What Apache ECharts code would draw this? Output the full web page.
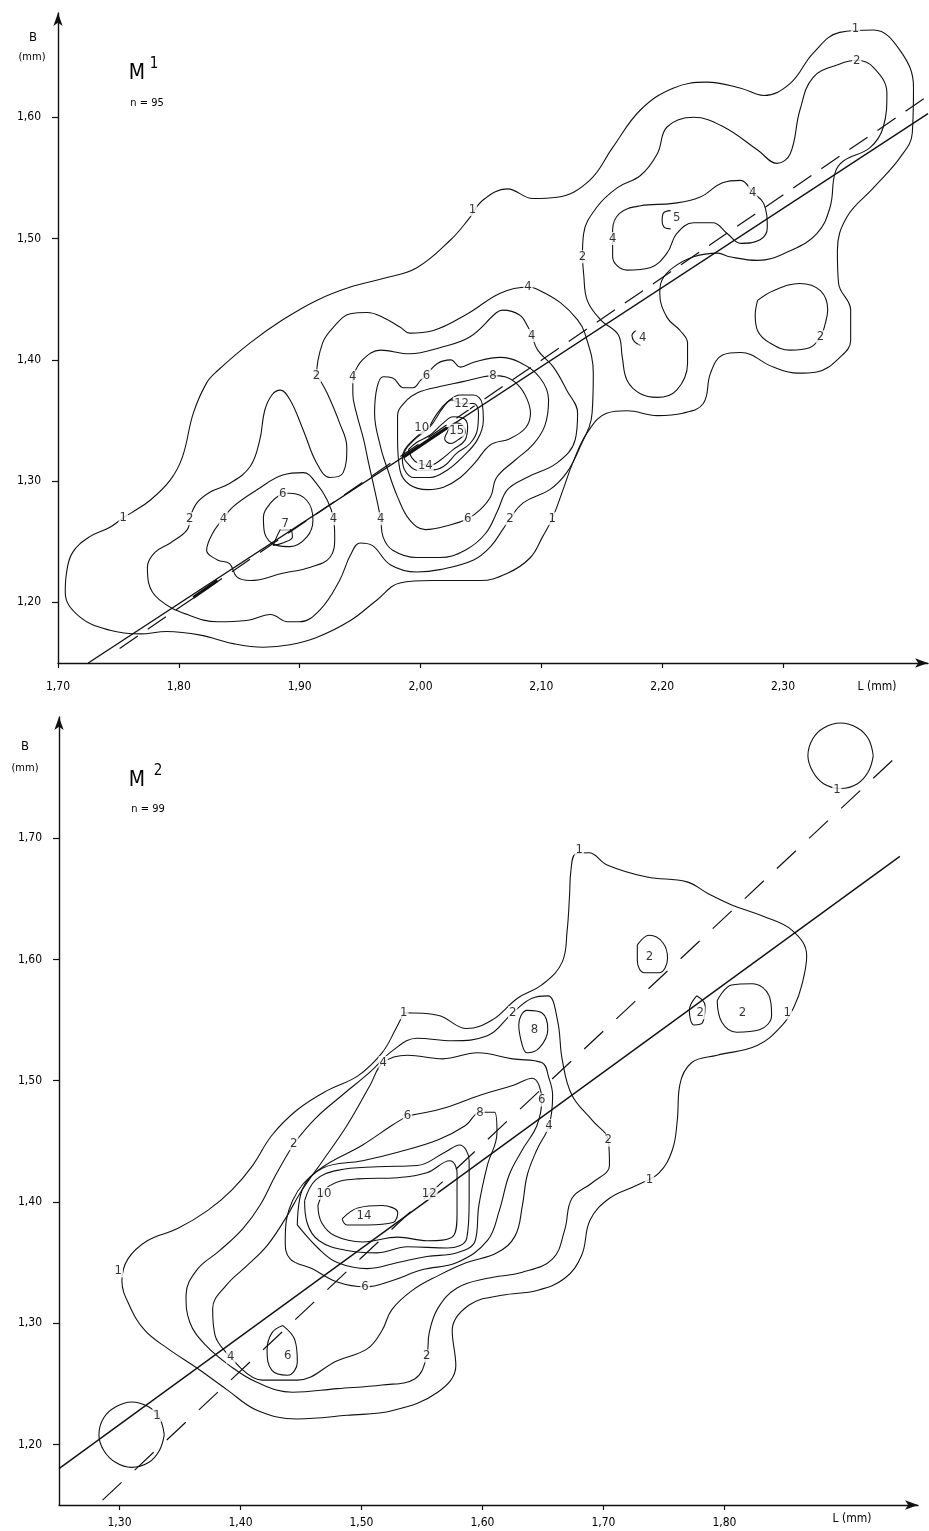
<!DOCTYPE html>
<html><head><meta charset="utf-8">
<script src="https://cdn.jsdelivr.net/npm/echarts@6/dist/echarts.min.js"></script>
<style>html,body{margin:0;padding:0;background:#fff}#c{width:929px;height:1531px}</style>
</head><body><div id="c"></div>
<script>
// ---------- M1 panel (top) ----------
const m1XTicks = [1.7, 1.8, 1.9, 2.0, 2.1, 2.2, 2.3];
const m1YTicks = [1.2, 1.3, 1.4, 1.5, 1.6];
const m1Solid = [[1.725, 1.15], [2.42, 1.603]];
const m1Dashed = [[1.751, 1.162], [2.419, 1.617]];
const m1SolidBold = [[1.986, 1.320], [2.022, 1.344]];
const m1DashedBold = [[1.812, 1.204], [1.832, 1.218]];
const m1Level1 = [[1.754,1.270],[1.761,1.274],[1.776,1.284],[1.793,1.301],[1.803,1.320],[1.812,1.356],[1.823,1.381],[1.832,1.391],[1.859,1.414],[1.886,1.433],[1.914,1.449],[1.942,1.460],[1.969,1.467],[1.997,1.476],[2.025,1.499],[2.039,1.515],[2.052,1.532],[2.072,1.541],[2.093,1.533],[2.113,1.534],[2.140,1.548],[2.159,1.575],[2.182,1.606],[2.209,1.624],[2.237,1.629],[2.265,1.624],[2.284,1.618],[2.306,1.628],[2.325,1.653],[2.347,1.670],[2.375,1.672],[2.397,1.655],[2.408,1.625],[2.407,1.587],[2.397,1.567],[2.375,1.542],[2.353,1.518],[2.345,1.490],[2.346,1.463],[2.356,1.441],[2.356,1.416],[2.347,1.402],[2.328,1.390],[2.312,1.389],[2.292,1.394],[2.265,1.406],[2.250,1.404],[2.240,1.389],[2.234,1.364],[2.217,1.356],[2.196,1.354],[2.171,1.358],[2.154,1.356],[2.138,1.340],[2.126,1.315],[2.118,1.293],[2.109,1.269],[2.101,1.254],[2.091,1.237],[2.072,1.224],[2.049,1.218],[2.010,1.218],[1.983,1.216],[1.964,1.202],[1.942,1.185],[1.914,1.171],[1.892,1.165],[1.870,1.163],[1.845,1.166],[1.818,1.173],[1.790,1.176],[1.768,1.174],[1.743,1.177],[1.718,1.188],[1.706,1.208],[1.707,1.224],[1.712,1.241],[1.726,1.254],[1.743,1.262],[1.754,1.270]];
const m1Level2Main = [[1.809,1.269],[1.815,1.282],[1.826,1.291],[1.842,1.298],[1.859,1.312],[1.867,1.334],[1.871,1.358],[1.877,1.371],[1.884,1.375],[1.892,1.367],[1.903,1.342],[1.914,1.315],[1.925,1.303],[1.936,1.307],[1.939,1.328],[1.933,1.348],[1.923,1.372],[1.917,1.383],[1.914,1.387],[1.919,1.414],[1.928,1.427],[1.942,1.438],[1.956,1.439],[1.969,1.435],[1.983,1.427],[1.991,1.422],[2.010,1.424],[2.039,1.438],[2.066,1.455],[2.089,1.460],[2.099,1.457],[2.116,1.447],[2.130,1.433],[2.136,1.422],[2.143,1.389],[2.142,1.356],[2.132,1.328],[2.121,1.307],[2.107,1.293],[2.085,1.282],[2.074,1.269],[2.068,1.260],[2.058,1.246],[2.044,1.235],[2.016,1.227],[1.997,1.225],[1.975,1.231],[1.960,1.247],[1.950,1.249],[1.942,1.239],[1.933,1.218],[1.917,1.194],[1.900,1.184],[1.890,1.184],[1.876,1.190],[1.856,1.185],[1.832,1.184],[1.807,1.190],[1.784,1.202],[1.775,1.216],[1.774,1.229],[1.780,1.241],[1.793,1.249],[1.807,1.260],[1.809,1.269]];
const m1Level2Upper = [[2.134,1.485],[2.135,1.471],[2.138,1.449],[2.149,1.433],[2.164,1.420],[2.167,1.402],[2.171,1.383],[2.182,1.372],[2.196,1.369],[2.212,1.375],[2.221,1.397],[2.221,1.414],[2.215,1.424],[2.204,1.435],[2.198,1.455],[2.200,1.466],[2.209,1.476],[2.226,1.485],[2.246,1.488],[2.256,1.485],[2.279,1.482],[2.306,1.490],[2.328,1.504],[2.339,1.526],[2.343,1.554],[2.350,1.564],[2.372,1.575],[2.383,1.592],[2.386,1.620],[2.375,1.641],[2.361,1.647],[2.347,1.644],[2.325,1.633],[2.314,1.606],[2.306,1.570],[2.295,1.562],[2.279,1.573],[2.251,1.592],[2.226,1.600],[2.204,1.592],[2.196,1.570],[2.182,1.552],[2.163,1.542],[2.146,1.526],[2.135,1.504],[2.134,1.485]];
const m1Level2Right = [[2.279,1.449],[2.292,1.457],[2.314,1.463],[2.331,1.457],[2.337,1.441],[2.335,1.430],[2.331,1.419],[2.322,1.410],[2.306,1.408],[2.289,1.414],[2.279,1.424],[2.277,1.437],[2.279,1.449]];
const m1Level4Upper = [[2.159,1.500],[2.159,1.507],[2.165,1.521],[2.182,1.527],[2.209,1.529],[2.231,1.534],[2.250,1.546],[2.265,1.548],[2.275,1.538],[2.284,1.529],[2.287,1.509],[2.281,1.499],[2.265,1.496],[2.254,1.504],[2.242,1.513],[2.226,1.513],[2.212,1.504],[2.204,1.488],[2.190,1.476],[2.171,1.474],[2.159,1.485],[2.159,1.500]];
const m1Level5 = [[2.207,1.523],[2.201,1.521],[2.200,1.515],[2.202,1.509],[2.207,1.508]];
const m1Level4Curl = [[2.178,1.424],[2.175,1.420],[2.177,1.415],[2.182,1.412]];
const m1Level4Left = [[1.837,1.269],[1.845,1.279],[1.865,1.293],[1.886,1.305],[1.903,1.307],[1.914,1.298],[1.923,1.284],[1.928,1.269],[1.929,1.254],[1.925,1.237],[1.909,1.229],[1.886,1.224],[1.859,1.218],[1.848,1.221],[1.842,1.232],[1.832,1.235],[1.823,1.243],[1.828,1.257],[1.837,1.269]];
const m1Level6Left = [[1.886,1.290],[1.892,1.290],[1.906,1.284],[1.911,1.268],[1.906,1.254],[1.892,1.246],[1.881,1.247],[1.871,1.257],[1.870,1.270],[1.876,1.282],[1.886,1.290]];
const m1Level7 = [[1.884,1.260],[1.892,1.260],[1.894,1.254],[1.886,1.249],[1.878,1.247],[1.881,1.254],[1.884,1.260]];
const m1Level4Center = [[1.944,1.386],[1.952,1.400],[1.967,1.408],[1.991,1.405],[2.016,1.410],[2.041,1.419],[2.063,1.439],[2.068,1.441],[2.082,1.437],[2.089,1.427],[2.092,1.420],[2.097,1.408],[2.110,1.394],[2.121,1.375],[2.130,1.356],[2.128,1.334],[2.113,1.315],[2.088,1.303],[2.072,1.293],[2.064,1.276],[2.054,1.257],[2.037,1.243],[2.016,1.237],[1.997,1.237],[1.977,1.243],[1.969,1.254],[1.967,1.269],[1.962,1.293],[1.957,1.315],[1.953,1.334],[1.947,1.356],[1.944,1.372],[1.944,1.386]];
const m1Level6Center = [[2.005,1.387],[2.014,1.397],[2.025,1.400],[2.033,1.394],[2.044,1.398],[2.066,1.402],[2.082,1.398],[2.099,1.385],[2.106,1.367],[2.103,1.346],[2.093,1.330],[2.078,1.317],[2.063,1.303],[2.058,1.287],[2.049,1.276],[2.039,1.269],[2.025,1.264],[2.004,1.260],[1.991,1.268],[1.981,1.287],[1.973,1.309],[1.967,1.328],[1.962,1.356],[1.964,1.377],[1.969,1.386],[1.977,1.385],[1.986,1.377],[1.994,1.377],[2.000,1.383],[2.005,1.387]];
const m1Level8 = [[2.060,1.387],[2.070,1.386],[2.081,1.379],[2.088,1.368],[2.091,1.356],[2.087,1.344],[2.074,1.335],[2.058,1.330],[2.045,1.315],[2.033,1.303],[2.019,1.295],[2.006,1.293],[1.991,1.297],[1.983,1.309],[1.981,1.336],[1.981,1.354],[1.987,1.365],[1.998,1.373],[2.016,1.378],[2.035,1.382],[2.052,1.386],[2.060,1.387]];
const m1Level10 = [[2.008,1.346],[2.014,1.356],[2.022,1.365],[2.033,1.371],[2.044,1.371],[2.051,1.364],[2.052,1.350],[2.047,1.334],[2.035,1.320],[2.022,1.309],[2.008,1.303],[1.994,1.303],[1.987,1.309],[1.985,1.319],[1.987,1.326],[1.994,1.334],[2.008,1.346]];
const m1Level12 = [[1.989,1.328],[1.997,1.336],[2.008,1.345],[2.019,1.361],[2.026,1.367],[2.034,1.364],[2.044,1.364],[2.048,1.356],[2.047,1.342],[2.041,1.331],[2.030,1.323],[2.019,1.312],[2.008,1.309],[1.997,1.309],[1.989,1.315],[1.986,1.321],[1.989,1.328]];
const m1Level14 = [[1.990,1.326],[1.997,1.332],[2.008,1.338],[2.019,1.348],[2.027,1.353],[2.035,1.352],[2.039,1.345],[2.037,1.334],[2.027,1.326],[2.016,1.317],[2.008,1.313],[1.998,1.315],[1.993,1.319],[1.990,1.326]];
const m1Level15 = [[2.022,1.340],[2.020,1.335],[2.025,1.331],[2.031,1.334],[2.037,1.340],[2.035,1.346],[2.029,1.348],[2.022,1.340]];
const m1Labels = [[1.754,1.270,'1'],[2.043,1.524,'1'],[2.360,1.673,'1'],[2.109,1.269,'1'],
  [1.809,1.269,'2'],[1.914,1.387,'2'],[2.074,1.269,'2'],[2.134,1.485,'2'],[2.361,1.647,'2'],[2.331,1.419,'2'],
  [2.089,1.460,'4'],[2.159,1.500,'4'],[2.275,1.538,'4'],[2.184,1.418,'4'],[1.837,1.269,'4'],[1.928,1.269,'4'],
  [1.944,1.386,'4'],[2.092,1.420,'4'],[1.967,1.269,'4'],
  [2.212,1.517,'5'],[1.886,1.290,'6'],[2.005,1.387,'6'],[2.039,1.269,'6'],[1.888,1.265,'7'],
  [2.060,1.387,'8'],[2.001,1.344,'10'],[2.034,1.364,'12'],[2.004,1.313,'14'],[2.030,1.342,'15']];

// ---------- M2 panel (bottom) ----------
const m2XTicks = [1.3, 1.4, 1.5, 1.6, 1.7, 1.8];
const m2YTicks = [1.2, 1.3, 1.4, 1.5, 1.6, 1.7];
const m2Solid = [[1.25, 1.18], [1.945, 1.685]];
const m2Dashed = [[1.286, 1.154], [1.945, 1.77]];
const m2CircleLow = [[1.337,1.208],[1.333,1.222],[1.324,1.231],[1.310,1.235],[1.297,1.231],[1.287,1.222],[1.283,1.208],[1.287,1.195],[1.297,1.185],[1.310,1.181],[1.324,1.185],[1.333,1.195],[1.337,1.208]];
const m2CircleHigh = [[1.923,1.768],[1.919,1.782],[1.910,1.791],[1.896,1.795],[1.882,1.791],[1.873,1.782],[1.869,1.768],[1.873,1.755],[1.882,1.745],[1.896,1.741],[1.910,1.745],[1.919,1.755],[1.923,1.768]];
const m2Level1 = [[1.535,1.556],[1.563,1.554],[1.587,1.543],[1.608,1.550],[1.629,1.568],[1.649,1.579],[1.666,1.598],[1.670,1.624],[1.672,1.653],[1.673,1.672],[1.677,1.687],[1.688,1.688],[1.703,1.678],[1.736,1.668],[1.769,1.664],[1.787,1.654],[1.806,1.645],[1.831,1.636],[1.856,1.624],[1.868,1.603],[1.864,1.579],[1.858,1.562],[1.848,1.546],[1.827,1.529],[1.794,1.521],[1.773,1.515],[1.763,1.496],[1.761,1.467],[1.757,1.443],[1.746,1.424],[1.728,1.414],[1.705,1.403],[1.689,1.385],[1.682,1.356],[1.668,1.337],[1.645,1.327],[1.616,1.323],[1.589,1.315],[1.575,1.294],[1.578,1.265],[1.563,1.243],[1.526,1.228],[1.488,1.224],[1.447,1.221],[1.414,1.228],[1.389,1.245],[1.364,1.263],[1.340,1.279],[1.321,1.294],[1.308,1.315],[1.302,1.335],[1.307,1.353],[1.323,1.368],[1.348,1.378],[1.373,1.393],[1.393,1.410],[1.410,1.430],[1.426,1.455],[1.447,1.476],[1.472,1.492],[1.497,1.504],[1.517,1.523],[1.528,1.542],[1.535,1.556]];
const m2Level2 = [[1.444,1.448],[1.462,1.469],[1.484,1.488],[1.507,1.507],[1.526,1.525],[1.546,1.535],[1.575,1.533],[1.604,1.537],[1.625,1.556],[1.641,1.568],[1.654,1.570],[1.662,1.550],[1.666,1.517],[1.674,1.488],[1.691,1.467],[1.704,1.451],[1.705,1.430],[1.691,1.416],[1.674,1.403],[1.668,1.377],[1.658,1.353],[1.633,1.342],[1.604,1.337],[1.579,1.329],[1.563,1.312],[1.556,1.292],[1.554,1.273],[1.544,1.254],[1.517,1.249],[1.480,1.246],[1.443,1.243],[1.414,1.251],[1.391,1.265],[1.371,1.282],[1.358,1.301],[1.355,1.323],[1.364,1.344],[1.383,1.360],[1.402,1.378],[1.416,1.397],[1.429,1.422],[1.444,1.448]];
const m2Level2LoopA = [[1.728,1.612],[1.738,1.620],[1.749,1.614],[1.753,1.601],[1.746,1.589],[1.734,1.589],[1.728,1.599],[1.728,1.612]];
const m2Level2LoopB = [[1.794,1.566],[1.806,1.579],[1.823,1.580],[1.837,1.570],[1.839,1.554],[1.829,1.542],[1.810,1.540],[1.798,1.548],[1.794,1.566]];
const m2Level2LoopC = [[1.777,1.570],[1.784,1.562],[1.782,1.548],[1.775,1.546],[1.771,1.558],[1.777,1.570]];
const m2Level4 = [[1.392,1.272],[1.379,1.290],[1.377,1.312],[1.388,1.331],[1.406,1.348],[1.422,1.364],[1.437,1.386],[1.451,1.410],[1.468,1.434],[1.488,1.463],[1.507,1.496],[1.518,1.515],[1.538,1.521],[1.567,1.518],[1.596,1.523],[1.625,1.518],[1.649,1.515],[1.655,1.502],[1.658,1.488],[1.655,1.463],[1.645,1.443],[1.637,1.422],[1.633,1.397],[1.627,1.372],[1.612,1.358],[1.587,1.350],[1.563,1.339],[1.542,1.327],[1.525,1.311],[1.517,1.294],[1.505,1.279],[1.480,1.269],[1.447,1.253],[1.418,1.253],[1.392,1.272]];
const m2Level6 = [[1.538,1.471],[1.567,1.477],[1.598,1.488],[1.625,1.496],[1.641,1.502],[1.649,1.484],[1.645,1.463],[1.633,1.443],[1.622,1.422],[1.614,1.393],[1.604,1.368],[1.579,1.350],[1.550,1.344],[1.525,1.335],[1.503,1.330],[1.480,1.334],[1.459,1.345],[1.441,1.353],[1.437,1.368],[1.443,1.401],[1.464,1.426],[1.501,1.447],[1.525,1.463],[1.538,1.471]];
const m2Level6Small = [[1.435,1.298],[1.445,1.286],[1.447,1.268],[1.439,1.257],[1.426,1.261],[1.422,1.278],[1.426,1.292],[1.435,1.298]];
const m2Level8Small = [[1.633,1.529],[1.630,1.546],[1.637,1.558],[1.649,1.556],[1.654,1.542],[1.647,1.527],[1.637,1.523],[1.633,1.529]];
const m2Level8 = [[1.447,1.381],[1.451,1.410],[1.468,1.428],[1.501,1.434],[1.530,1.441],[1.563,1.451],[1.586,1.463],[1.598,1.474],[1.610,1.474],[1.612,1.457],[1.604,1.430],[1.597,1.397],[1.594,1.368],[1.579,1.358],[1.554,1.355],[1.530,1.350],[1.505,1.345],[1.480,1.350],[1.464,1.362],[1.447,1.381]];
const m2Level10 = [[1.453,1.401],[1.462,1.418],[1.480,1.426],[1.513,1.429],[1.546,1.430],[1.569,1.441],[1.581,1.447],[1.589,1.434],[1.589,1.401],[1.587,1.370],[1.571,1.362],[1.538,1.363],[1.513,1.358],[1.488,1.360],[1.465,1.368],[1.455,1.383],[1.453,1.401]];
const m2Level12 = [[1.464,1.397],[1.473,1.413],[1.497,1.419],[1.530,1.420],[1.554,1.424],[1.573,1.434],[1.579,1.424],[1.579,1.391],[1.576,1.372],[1.554,1.368],[1.530,1.371],[1.501,1.367],[1.478,1.372],[1.467,1.383],[1.464,1.397]];
const m2Level14 = [[1.484,1.386],[1.497,1.395],[1.517,1.397],[1.530,1.391],[1.526,1.383],[1.505,1.381],[1.488,1.381],[1.484,1.386]];
const m2Labels = [[1.331,1.224,'1'],[1.893,1.740,'1'],[1.535,1.556,'1'],[1.680,1.691,'1'],[1.852,1.556,'1'],[1.738,1.418,'1'],[1.299,1.343,'1'],
  [1.444,1.448,'2'],[1.625,1.556,'2'],[1.704,1.451,'2'],[1.554,1.273,'2'],[1.738,1.602,'2'],[1.815,1.556,'2'],[1.780,1.556,'2'],
  [1.392,1.272,'4'],[1.518,1.515,'4'],[1.655,1.463,'4'],[1.538,1.471,'6'],[1.503,1.330,'6'],[1.439,1.273,'6'],[1.649,1.484,'6'],
  [1.598,1.474,'8'],[1.643,1.542,'8'],[1.469,1.407,'10'],[1.556,1.407,'12'],[1.502,1.389,'14']];

const INK = '#111';
const FONT = 'DejaVu Sans Condensed, Liberation Sans Narrow, sans-serif';
const fmt = v => v.toFixed(2).replace('.', ',');

function line(data, gi, opts) {
  return Object.assign({type:'line', xAxisIndex:gi, yAxisIndex:gi, data:data, symbol:'none', silent:true,
    smooth:0.4, lineStyle:{color:INK, width:1.1}, z:2}, opts || {});
}
function labels(data, gi) {
  return {type:'scatter', xAxisIndex:gi, yAxisIndex:gi, symbolSize:1, itemStyle:{color:'rgba(0,0,0,0)'}, silent:true, z:5,
    data:data, label:{show:true, position:'inside', formatter:p => p.value[2], color:'#000', fontFamily:FONT, fontSize:13,
      backgroundColor:'#fff', padding:[0,1]}};
}
function xAxis(gi, min, max, ticks, margin) {
  return {type:'value', gridIndex:gi, min:min, max:max, splitLine:{show:false},
    axisLine:{show:true, onZero:false, symbol:['none','arrow'], symbolSize:[7,13], lineStyle:{color:INK, width:1.4}},
    axisTick:{show:true, length:5, customValues:ticks, lineStyle:{color:INK, width:1.2}},
    axisLabel:{customValues:ticks, formatter:fmt, color:'#000', fontFamily:FONT, fontSize:12, margin:margin}};
}
function yAxis(gi, min, max, ticks) {
  return {type:'value', gridIndex:gi, min:min, max:max, splitLine:{show:false},
    axisLine:{show:true, onZero:false, symbol:['none','arrow'], symbolSize:[7,13], lineStyle:{color:INK, width:1.4}},
    axisTick:{show:true, length:6, customValues:ticks, lineStyle:{color:INK, width:1.2}},
    axisLabel:{customValues:ticks, formatter:fmt, color:'#000', fontFamily:FONT, fontSize:12, margin:17}};
}

const m1Contours = [m1Level1, m1Level2Main, m1Level2Upper, m1Level2Right, m1Level4Upper, m1Level5, m1Level4Curl,
  m1Level4Left, m1Level6Left, m1Level7, m1Level4Center, m1Level6Center, m1Level8, m1Level10, m1Level12, m1Level14, m1Level15];
const m2Contours = [m2CircleLow, m2CircleHigh, m2Level1, m2Level2, m2Level2LoopA, m2Level2LoopB, m2Level2LoopC,
  m2Level4, m2Level6, m2Level6Small, m2Level8Small, m2Level8, m2Level10, m2Level12, m2Level14];

const series = [];
m1Contours.forEach(c => series.push(line(c, 0)));
series.push(line(m1Solid, 0, {smooth:false, lineStyle:{color:INK, width:1.4}}));
series.push(line(m1Dashed, 0, {smooth:false, lineStyle:{color:INK, width:1.2, type:[22,12]}}));
series.push(line(m1SolidBold, 0, {smooth:false, lineStyle:{color:INK, width:3.2}}));
series.push(line(m1DashedBold, 0, {smooth:false, lineStyle:{color:INK, width:3}}));
series.push(labels(m1Labels, 0));
m2Contours.forEach(c => series.push(line(c, 1)));
series.push(line(m2Solid, 1, {smooth:false, lineStyle:{color:INK, width:1.4}}));
series.push(line(m2Dashed, 1, {smooth:false, lineStyle:{color:INK, width:1.2, type:[26,18]}}));
series.push(labels(m2Labels, 1));

const txt = (x, y, s, size) => ({type:'text', x:x, y:y, style:{text:s, fill:'#000', font:size+'px '+FONT, textAlign:'center', textVerticalAlign:'middle'}});

const chart = echarts.init(document.getElementById('c'), null, {renderer:'canvas'});
chart.setOption({
  animation:false, backgroundColor:'#fff',
  grid:[{left:58, top:13, width:870, height:650}, {left:59, top:717, width:859, height:788}],
  xAxis:[xAxis(0, 1.70, 2.42, m1XTicks, 18), xAxis(1, 1.25, 1.96, m2XTicks, 12)],
  yAxis:[yAxis(0, 1.15, 1.686, m1YTicks), yAxis(1, 1.15, 1.80, m2YTicks)],
  series:series,
  graphic:[
    txt(33, 38, 'B', 13), txt(32, 57, '(mm)', 11),
    txt(137, 74, 'M', 21), txt(154, 64, '1', 15), txt(147, 103, 'n = 95', 11),
    txt(877, 687, 'L (mm)', 12),
    txt(25, 747, 'B', 13), txt(25, 768, '(mm)', 11),
    txt(137, 781, 'M', 21), txt(158, 771, '2', 15), txt(148, 809, 'n = 99', 11),
    txt(852, 1519, 'L (mm)', 12)
  ]
});
</script></body></html>
